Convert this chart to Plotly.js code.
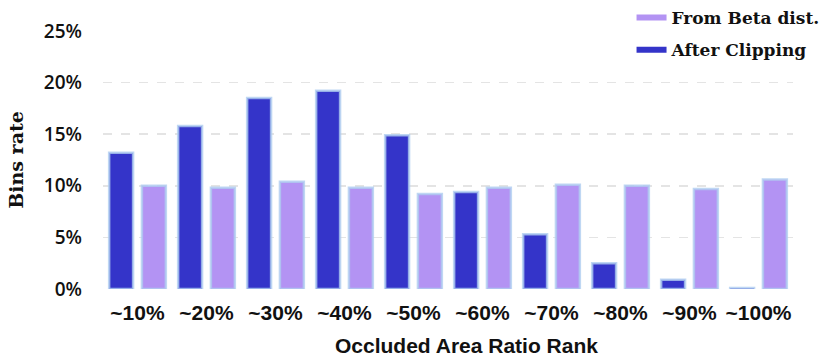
<!DOCTYPE html>
<html>
<head>
<meta charset="utf-8">
<script src="https://cdn.plot.ly/plotly-3.0.1.min.js"></script>
<style>
  html, body { margin: 0; padding: 0; background: #fff; }
  #chart { width: 831px; height: 360px; }
</style>
</head>
<body>
<div id="chart"></div>
<script>
const categories = ["~10%", "~20%", "~30%", "~40%", "~50%", "~60%", "~70%", "~80%", "~90%", "~100%"];
const afterClipping = [13.2, 15.8, 18.5, 19.2, 14.9, 9.4, 5.3, 2.5, 0.9, 0.1];
const fromBeta = [10.0, 9.8, 10.4, 9.8, 9.2, 9.8, 10.1, 10.0, 9.7, 10.6];
const yTicks = [0, 5, 10, 15, 20, 25];
const yTickText = ["0%", "5%", "10%", "15%", "20%", "25%"];

const darkColor = "#3434c9";
const lightColor = "#b393f3";
const glow = "rgba(175,205,240,0.8)";
const serif = "DejaVu Serif";

const clipTrace = {
  x: categories,
  y: afterClipping,
  type: "bar",
  name: "After Clipping",
  marker: { color: darkColor, line: { color: glow, width: 2.5 } },
  showlegend: false,
  hoverinfo: "skip",
};
const betaTrace = {
  x: categories,
  y: fromBeta,
  type: "bar",
  name: "From Beta dist.",
  marker: { color: lightColor, line: { color: glow, width: 2.5 } },
  showlegend: false,
  hoverinfo: "skip",
};
// legend entries are drawn as short lines
const betaKey = {
  x: [null],
  y: [null],
  type: "scatter",
  mode: "lines",
  name: "From Beta dist.",
  legendgroup: "a",
  line: { color: lightColor, width: 6 },
};
const clipKey = {
  x: [null],
  y: [null],
  type: "scatter",
  mode: "lines",
  name: "After Clipping",
  legendgroup: "b",
  line: { color: darkColor, width: 6 },
};

const layout = {
  width: 831,
  height: 360,
  margin: { l: 103, r: 38, t: 31, b: 71, autoexpand: false },
  paper_bgcolor: "#fff",
  plot_bgcolor: "#fff",
  barmode: "group",
  bargap: 0.05,
  bargroupgap: 0.27,
  showlegend: true,
  legend: {
    x: 0.766,
    xanchor: "left",
    y: 1.12,
    yanchor: "top",
    bgcolor: "rgba(0,0,0,0)",
    font: { family: serif, size: 17, color: "#111", weight: "bold" },
    tracegroupgap: 7,
  },
  xaxis: {
    type: "category",
    automargin: false,
    tickfont: { family: "Liberation Sans", size: 21, color: "#111", weight: "bold" },
    ticklabelstandoff: 9,
    showgrid: false,
    showline: false,
    ticks: "",
  },
  yaxis: {
    range: [0, 25],
    automargin: false,
    tickvals: yTicks,
    ticktext: yTickText,
    tickfont: { family: "Open Sans", size: 19, color: "#111", weight: 600 },
    ticklabelstandoff: 20,
    showgrid: true,
    gridcolor: "#e4e4e4",
    griddash: "dash",
    gridwidth: 1.5,
    zeroline: false,
    showline: false,
    ticks: "",
    title: {
      text: "<b>Bins rate</b>",
      font: { family: serif, size: 19, color: "#111" },
      standoff: 15,
    },
  },
  annotations: [
    {
      text: "<b>Occluded Area Ratio Rank</b>",
      xref: "paper",
      yref: "paper",
      x: 0.5275,
      y: -0.22,
      xanchor: "center",
      yanchor: "middle",
      showarrow: false,
      font: { family: "Liberation Sans", size: 21, color: "#111" },
    },
  ],
};

Plotly.newPlot("chart", [clipTrace, betaTrace, betaKey, clipKey], layout, { displayModeBar: false, staticPlot: true });
</script>
</body>
</html>
